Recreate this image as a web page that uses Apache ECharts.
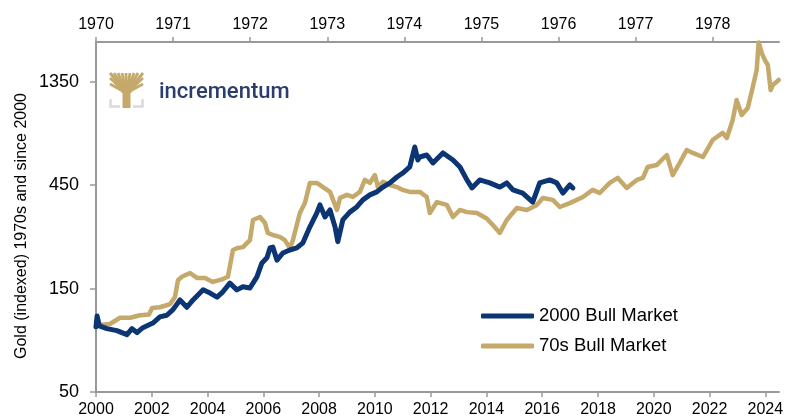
<!DOCTYPE html>
<html>
<head>
<meta charset="utf-8">
<script src="https://cdn.jsdelivr.net/npm/echarts@6/dist/echarts.min.js"></script>
<style>
html,body{margin:0;padding:0;background:#fff;}
#chart{width:789px;height:418px;}
</style>
</head>
<body>
<div id="chart"></div>
<script>
// ---- Data ----
var bottomTicks = [2000, 2002, 2004, 2006, 2008, 2010, 2012, 2014, 2016, 2018, 2020, 2022, 2024];
var topTicks = [1970, 1971, 1972, 1973, 1974, 1975, 1976, 1977, 1978];
var yTicks = [50, 150, 450, 1350];
var seriesNames = ['2000 Bull Market', '70s Bull Market'];

var bullYears2000 = [2000.00, 2000.04, 2000.12, 2000.39, 2000.75, 2001.11, 2001.29, 2001.47, 2001.68, 2002.04,
  2002.29, 2002.54, 2002.76, 2003.01, 2003.26, 2003.48, 2003.84, 2004.09, 2004.34, 2004.55,
  2004.80, 2005.05, 2005.27, 2005.52, 2005.77, 2005.95, 2006.13, 2006.24, 2006.34, 2006.49,
  2006.70, 2006.95, 2007.20, 2007.42, 2007.67, 2007.92, 2008.03, 2008.21, 2008.39, 2008.57,
  2008.67, 2008.85, 2009.10, 2009.35, 2009.57, 2009.82, 2010.07, 2010.29, 2010.54, 2010.79,
  2011.00, 2011.25, 2011.43, 2011.54, 2011.61, 2011.86, 2012.08, 2012.44, 2012.80, 2013.05,
  2013.30, 2013.48, 2013.76, 2014.12, 2014.48, 2014.73, 2014.95, 2015.30, 2015.66, 2015.91,
  2016.27, 2016.52, 2016.74, 2016.99, 2017.10];
var bullValues2000 = [100, 112, 101, 98, 96, 92, 98, 94, 99, 104,
  111, 113, 120, 133, 123, 133, 148, 143, 137, 145,
  159, 148, 153, 151, 170, 197, 208, 231, 233, 203,
  219, 226, 231, 244, 289, 335, 365, 321, 346, 289,
  247, 311, 338, 357, 385, 406, 419, 441, 461, 491,
  512, 546, 675, 588, 607, 620, 570, 634, 588, 546,
  476, 437, 476, 461, 441, 461, 428, 414, 376, 461,
  476, 461, 414, 451, 437];

var bullYears70s = [2000.00, 2000.14, 2000.50, 2000.86, 2001.22, 2001.58, 2001.90, 2002.01, 2002.29, 2002.65,
  2002.83, 2002.94, 2003.08, 2003.37, 2003.62, 2003.91, 2004.19, 2004.55, 2004.73, 2004.91,
  2005.09, 2005.27, 2005.52, 2005.63, 2005.88, 2006.06, 2006.16, 2006.34, 2006.59, 2006.77,
  2006.95, 2007.06, 2007.31, 2007.49, 2007.67, 2007.92, 2008.14, 2008.39, 2008.64, 2008.75,
  2009.00, 2009.21, 2009.46, 2009.64, 2009.82, 2010.00, 2010.11, 2010.29, 2010.54, 2010.79,
  2011.00, 2011.25, 2011.61, 2011.86, 2011.97, 2012.22, 2012.58, 2012.80, 2013.05, 2013.30,
  2013.66, 2014.01, 2014.23, 2014.48, 2014.73, 2015.09, 2015.45, 2015.81, 2016.02, 2016.38,
  2016.63, 2016.99, 2017.46, 2017.81, 2018.06, 2018.42, 2018.71, 2019.03, 2019.39, 2019.61,
  2019.78, 2020.11, 2020.47, 2020.68, 2020.93, 2021.18, 2021.40, 2021.76, 2022.11, 2022.47,
  2022.62, 2022.83, 2022.97, 2023.15, 2023.37, 2023.55, 2023.69, 2023.76, 2023.87, 2023.98,
  2024.09, 2024.19, 2024.27, 2024.48];
var bullValues70s = [100, 102, 103, 110, 110, 113, 114, 122, 123, 127,
  137, 164, 170, 177, 168, 168, 161, 166, 170, 226,
  231, 233, 251, 311, 321, 301, 271, 265, 260, 251,
  231, 251, 335, 372, 461, 461, 441, 419, 346, 393,
  406, 397, 419, 476, 461, 501, 441, 466, 451, 441,
  428, 419, 419, 397, 335, 376, 365, 321, 346, 338,
  335, 316, 295, 271, 311, 353, 346, 365, 393, 385,
  357, 372, 397, 428, 414, 461, 486, 437, 476, 486,
  546, 558, 620, 501, 570, 654, 634, 607, 727, 784,
  743, 900, 1113, 949, 1022, 1278, 1530, 2050, 1833, 1702,
  1614, 1237, 1305, 1376];

// ---- Axis ranges ----
var yMinValue = 50, yMaxValue = 2060;
var bottomMin = 2000, bottomMax = 2024.49;
var topMin = 1970, topMax = 1978.86;

// log base-3 scale relative to 50 (ticks at 50*3^k)
function toLog(v) { return Math.log(v / yMinValue) / Math.log(3); }
function fromLog(t) { return yMinValue * Math.pow(3, t); }

function pairs(xs, vs) {
  var out = [];
  for (var i = 0; i < xs.length; i++) out.push([xs[i], toLog(vs[i])]);
  return out;
}

var axisColor = '#999999';
var font = 'Liberation Sans, Arial, sans-serif';
var gold = '#C4A96A';
var navy = '#0C3574';

var chart = echarts.init(document.getElementById('chart'), null, {renderer: 'canvas'});

// Logo tree branches (decorative logo)
var trunkTop = [126.5, 93];
var branchEnds = [[110,73],[114,73],[118,73],[122,73],[126,73],[130,73],[134,73],[138,73],[143,73],[110,78],[143,78],[110,84],[143,84]];
var logoChildren = [];
branchEnds.forEach(function (p) {
  logoChildren.push({type: 'line', shape: {x1: trunkTop[0], y1: trunkTop[1], x2: p[0], y2: p[1]}, style: {stroke: gold, lineWidth: 2.8}});
});
logoChildren.push({type: 'polygon', shape: {points: [[113,82],[140,82],[131,93],[122,93]]}, style: {fill: gold}});
logoChildren.push({type: 'rect', shape: {x: 122.5, y: 90, width: 8, height: 18}, style: {fill: gold}});
logoChildren.push({type: 'polyline', shape: {points: [[110.5,99],[110.5,106.5],[120,106.5]]}, style: {stroke: '#d9d9d9', lineWidth: 2.5, fill: null}});
logoChildren.push({type: 'polyline', shape: {points: [[133,106.5],[142.5,106.5],[142.5,99]]}, style: {stroke: '#d9d9d9', lineWidth: 2.5, fill: null}});

var option = {
  animation: false,
  backgroundColor: '#ffffff',
  grid: {left: 96, right: 10, top: 42, bottom: 26, containLabel: false},
  legend: {
    data: seriesNames,
    orient: 'vertical',
    left: 476,
    top: 301,
    itemWidth: 53,
    itemHeight: 5,
    itemGap: 10,
    icon: 'roundRect',
    textStyle: {fontFamily: font, fontSize: 18.5, color: '#000', lineHeight: 20}
  },
  xAxis: [
    {
      type: 'value', position: 'bottom', min: bottomMin, max: bottomMax, interval: 2,
      axisLine: {show: true, onZero: false, lineStyle: {color: axisColor, width: 2}},
      axisTick: {show: true, length: 5, lineStyle: {color: axisColor, width: 1.5}, customValues: bottomTicks},
      axisLabel: {customValues: bottomTicks, margin: 10, fontFamily: font, fontSize: 16, color: '#000',
        formatter: function (v) { return String(Math.round(v)); }},
      splitLine: {show: false}
    },
    {
      type: 'value', position: 'top', min: topMin, max: topMax, interval: 1,
      axisLine: {show: true, onZero: false, lineStyle: {color: axisColor, width: 2}},
      axisTick: {show: true, length: 5, lineStyle: {color: axisColor, width: 1.5}, customValues: topTicks},
      axisLabel: {customValues: topTicks, margin: 9, fontFamily: font, fontSize: 16, color: '#000',
        formatter: function (v) { return String(Math.round(v)); }},
      splitLine: {show: false}
    }
  ],
  yAxis: {
    type: 'value', min: 0, max: toLog(yMaxValue), interval: 1,
    axisLine: {show: true, onZero: false, lineStyle: {color: axisColor, width: 2}},
    axisTick: {show: true, length: 6, lineStyle: {color: axisColor, width: 1.5}, customValues: yTicks.map(toLog)},
    axisLabel: {customValues: yTicks.map(toLog), margin: 17, fontFamily: font, fontSize: 18, color: '#000',
      formatter: function (v) { return String(Math.round(fromLog(v))); }},
    splitLine: {show: false}
  },
  series: [
    {
      name: seriesNames[1], type: 'line', xAxisIndex: 0, data: pairs(bullYears70s, bullValues70s),
      showSymbol: false, symbol: 'none', color: gold,
      lineStyle: {color: gold, width: 4.5, join: 'round', cap: 'round'}, z: 2
    },
    {
      name: seriesNames[0], type: 'line', xAxisIndex: 0, data: pairs(bullYears2000, bullValues2000),
      showSymbol: false, symbol: 'none', color: navy,
      lineStyle: {color: navy, width: 5, join: 'round', cap: 'round'}, z: 3
    }
  ],
  graphic: [
    {type: 'group', children: logoChildren},
    {type: 'text', x: 159, y: 92, style: {text: 'incrementum', fill: '#2B3D6B', font: '500 22px Roboto, sans-serif', textAlign: 'left', textVerticalAlign: 'middle'}},
    {type: 'text', x: 22, y: 226, rotation: Math.PI / 2, style: {text: 'Gold (indexed) 1970s and since 2000', fill: '#000', font: '16px ' + font, textAlign: 'center', textVerticalAlign: 'middle'}}
  ]
};
chart.setOption(option);
</script>
</body>
</html>
